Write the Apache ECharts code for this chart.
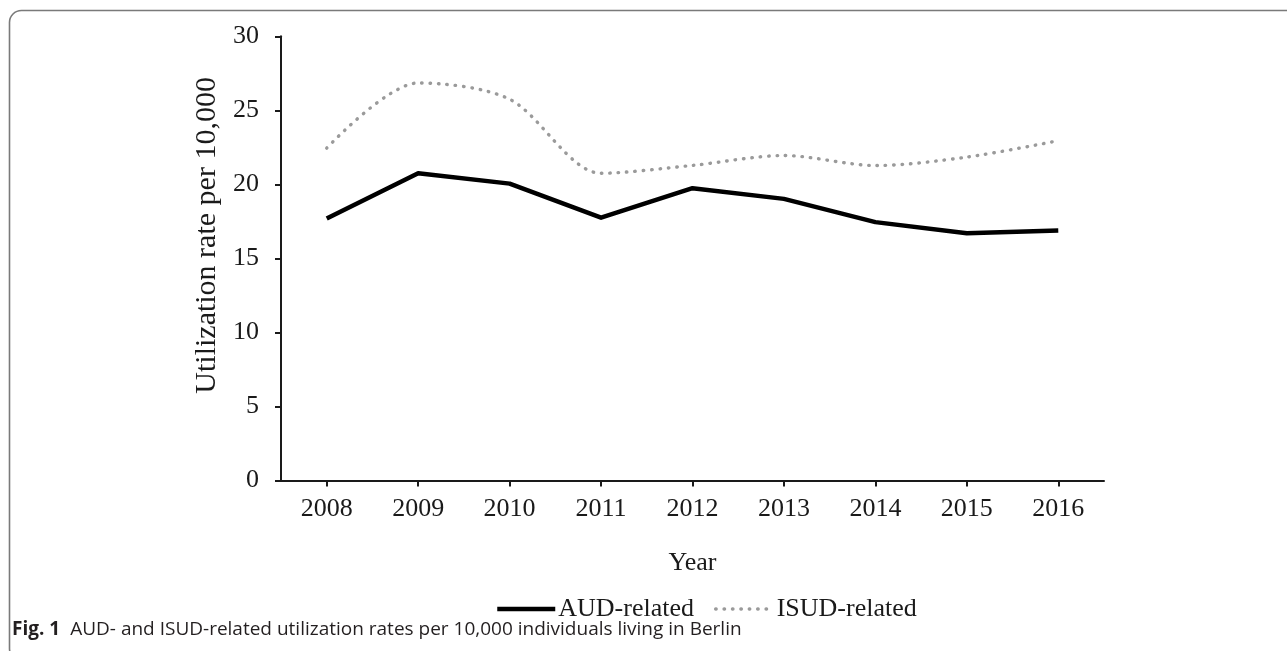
<!DOCTYPE html>
<html>
<head>
<meta charset="utf-8">
<script src="https://cdn.jsdelivr.net/npm/echarts@6/dist/echarts.min.js"></script>
<style>
html,body{margin:0;padding:0;background:#fff;}
#chart{width:1287px;height:651px;}
</style>
</head>
<body>
<div id="chart"></div>
<script>
const years = ['2008','2009','2010','2011','2012','2013','2014','2015','2016'];
const audRelated = [17.7, 20.75, 20.05, 17.75, 19.74, 19.02, 17.45, 16.70, 16.88];
const isudRelated = [22.45, 26.85, 25.75, 20.75, 21.28, 21.95, 21.27, 21.84, 22.95];
const yTicks = [0, 5, 10, 15, 20, 25, 30];
const seriesNames = ['AUD-related', 'ISUD-related'];
const captionBold = 'Fig. 1';
const captionText = 'AUD- and ISUD-related utilization rates per 10,000 individuals living in Berlin';

const serif = '"Liberation Serif", "Times New Roman", serif';
const audStyle = {color: '#000', width: 4.5, cap: 'butt', join: 'round'};
const isudStyle = {color: '#9a9a9a', width: 3.4, type: [0.5, 7.9], cap: 'round'};

const chart = echarts.init(document.getElementById('chart'), null, {renderer: 'canvas'});
chart.setOption({
  animation: false,
  backgroundColor: '#fff',
  grid: {left: 281, right: 1287 - 1104, top: 36.3, bottom: 651 - 480.5, containLabel: false},
  xAxis: {
    type: 'category',
    data: years,
    boundaryGap: true,
    name: 'Year',
    nameLocation: 'middle',
    nameGap: 70,
    nameTextStyle: {fontFamily: serif, fontSize: 26, color: '#1a1a1a'},
    axisLine: {lineStyle: {color: '#1a1a1a', width: 2}},
    axisTick: {show: true, alignWithLabel: true, length: 6, lineStyle: {color: '#1a1a1a', width: 2}},
    axisLabel: {fontFamily: serif, fontSize: 26, color: '#1a1a1a', margin: 16},
    splitLine: {show: false}
  },
  yAxis: {
    type: 'value',
    min: yTicks[0],
    max: yTicks[yTicks.length - 1],
    interval: yTicks[1] - yTicks[0],
    name: 'Utilization rate per 10,000',
    nameLocation: 'middle',
    nameRotate: 90,
    nameGap: 69,
    nameTextStyle: {fontFamily: serif, fontSize: 30, color: '#1a1a1a', verticalAlign: 'middle', padding: [0, 0, 0, 46]},
    axisLine: {show: true, lineStyle: {color: '#1a1a1a', width: 2}},
    axisTick: {show: true, length: 6, lineStyle: {color: '#1a1a1a', width: 2}},
    axisLabel: {fontFamily: serif, fontSize: 26, color: '#1a1a1a', margin: 22},
    splitLine: {show: false}
  },
  legend: {
    data: [
      {name: seriesNames[0], lineStyle: audStyle},
      {name: seriesNames[1], lineStyle: isudStyle}
    ],
    left: 490,
    top: 591,
    itemWidth: 58,
    itemHeight: 14,
    itemGap: 20,
    itemStyle: {color: 'rgba(0,0,0,0)', borderWidth: 0, opacity: 0},
    textStyle: {fontFamily: serif, fontSize: 26, color: '#1a1a1a', padding: [0, 0, 0, -2]}
  },
  series: [
    {
      name: seriesNames[0],
      type: 'line',
      data: audRelated,
      symbol: 'none',
      lineStyle: audStyle,
      itemStyle: {color: '#000'}
    },
    {
      name: seriesNames[1],
      type: 'line',
      data: isudRelated,
      symbol: 'none',
      smooth: 0.3,
      lineStyle: isudStyle,
      itemStyle: {color: '#9a9a9a'}
    }
  ],
  graphic: [
    {
      type: 'rect',
      silent: true,
      shape: {x: 9.5, y: 10.5, width: 1400, height: 650, r: 12},
      style: {fill: 'none', stroke: '#7a7a7a', lineWidth: 1.6}
    },
    {
      type: 'text',
      left: 12,
      top: 620,
      style: {
        text: '{b|' + captionBold + '}   {r|' + captionText + '}',
        rich: {
          b: {fontFamily: '"Open Sans", sans-serif', fontWeight: 'bold', fontSize: 19, fill: '#231f20'},
          r: {fontFamily: '"Open Sans", sans-serif', fontSize: 19, fill: '#231f20'}
        }
      }
    }
  ]
});
</script>
</body>
</html>
